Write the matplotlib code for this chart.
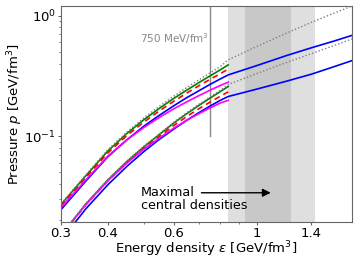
import matplotlib
matplotlib.use("Agg")
import matplotlib.pyplot as plt
from matplotlib.ticker import FixedLocator, FixedFormatter, NullFormatter

# --- data ---
eps_a = [0.30, 0.35, 0.40, 0.45, 0.50, 0.55, 0.60, 0.65, 0.70, 0.75, 0.80, 0.84]
green_a = [0.027, 0.047, 0.075, 0.105, 0.137, 0.170, 0.205, 0.240, 0.277, 0.315, 0.355, 0.390]
red_a = [0.0262, 0.0455, 0.0723, 0.101, 0.131, 0.162, 0.194, 0.227, 0.261, 0.295, 0.330, 0.360]
magenta_a = [0.0255, 0.0435, 0.068, 0.093, 0.118, 0.143, 0.168, 0.192, 0.216, 0.240, 0.263, 0.280]

eps_a_long = [0.30, 0.35, 0.40, 0.45, 0.50, 0.55, 0.60, 0.65, 0.70, 0.75, 0.80, 0.84, 1.0, 1.2, 1.4, 1.6, 1.8]
dotted_a = [0.0275, 0.048, 0.077, 0.108, 0.142, 0.177, 0.214, 0.252, 0.292, 0.334, 0.378, 0.43,
            0.553, 0.714, 0.877, 1.04, 1.20]
blue_a = [0.0245, 0.0425, 0.0672, 0.093, 0.121, 0.149, 0.178, 0.208, 0.237, 0.268, 0.298, 0.322,
          0.384, 0.465, 0.540, 0.611, 0.685]

eps_b = [0.32, 0.35, 0.40, 0.45, 0.50, 0.55, 0.60, 0.65, 0.70, 0.75, 0.80, 0.84]
green_b = [0.0193, 0.0274, 0.0431, 0.0614, 0.0816, 0.1031, 0.128, 0.153, 0.179, 0.206, 0.234, 0.258]
red_b = [0.0191, 0.0270, 0.0424, 0.0600, 0.0793, 0.0995, 0.122, 0.145, 0.168, 0.191, 0.214, 0.233]
magenta_b = [0.0192, 0.0271, 0.0424, 0.0596, 0.0780, 0.0965, 0.116, 0.135, 0.153, 0.171, 0.188, 0.198]

eps_b_long = [0.32, 0.35, 0.40, 0.45, 0.50, 0.55, 0.60, 0.65, 0.70, 0.75, 0.80, 0.84, 1.0, 1.2, 1.4, 1.6, 1.8]
dotted_b = [0.0195, 0.0277, 0.0436, 0.0621, 0.0826, 0.1045, 0.130, 0.156, 0.183, 0.211, 0.240, 0.268,
            0.330, 0.407, 0.483, 0.560, 0.640]
blue_b = [0.0176, 0.0250, 0.0393, 0.0560, 0.0745, 0.094, 0.114, 0.135, 0.156, 0.177, 0.198, 0.213,
          0.245, 0.285, 0.326, 0.374, 0.423]

band_outer = (0.84, 1.43)
band_inner = (0.93, 1.24)
vline_eps = 0.75

xticks = [0.3, 0.4, 0.6, 1.0, 1.4]
xticklabels = ["0.3", "0.4", "0.6", "1", "1.4"]

fig = plt.figure(figsize=(3.57, 2.65), dpi=100)
ax = fig.add_axes([0.171, 0.162, 0.815, 0.815])
ax.set_xscale("log")
ax.set_yscale("log")

ax.axvspan(*band_outer, color="#dfdfdf", lw=0, zorder=0)
ax.axvspan(*band_inner, color="#c8c8c8", lw=0, zorder=0)
ax.plot([vline_eps, vline_eps], [0.1, 1.3], color="#888888", lw=1.0, zorder=1)

lw = 1.2
dot = (0, (1, 1.5))
dash = (0, (3.5, 2.5))
ax.plot(eps_a_long, dotted_a, color="gray", ls=dot, lw=1.0, zorder=3)
ax.plot(eps_a, green_a, color="green", lw=lw, zorder=2)
ax.plot(eps_a, red_a, color="red", ls=dash, lw=lw, zorder=2)
ax.plot(eps_a_long, blue_a, color="blue", lw=lw, zorder=2)
ax.plot(eps_a, magenta_a, color="magenta", lw=lw, zorder=2)

ax.plot(eps_b_long, dotted_b, color="gray", ls=dot, lw=1.0, zorder=3)
ax.plot(eps_b, green_b, color="green", lw=lw, zorder=2)
ax.plot(eps_b, red_b, color="red", ls=dash, lw=lw, zorder=2)
ax.plot(eps_b_long, blue_b, color="blue", lw=lw, zorder=2)
ax.plot(eps_b, magenta_b, color="magenta", lw=lw, zorder=2)

ax.set_xlim(0.3, 1.8)
ax.set_ylim(0.0193, 1.2)

ax.xaxis.set_major_locator(FixedLocator(xticks))
ax.xaxis.set_major_formatter(FixedFormatter(xticklabels))
ax.xaxis.set_minor_formatter(NullFormatter())

for s in ax.spines.values():
    s.set_color("#666666")
ax.tick_params(which="major", length=2.2, pad=1.5)
ax.tick_params(which="minor", length=1.3)
ax.tick_params(which="both", colors="#666666", labelcolor="black", labelsize=9.5)

ax.set_xlabel(r"Energy density $\varepsilon$ [GeV/fm$^3$]", fontsize=9.5)
ax.set_ylabel(r"Pressure $p$ [GeV/fm$^3$]", fontsize=9.5)
ax.xaxis.set_label_coords(0.5, -0.078)
ax.yaxis.set_label_coords(-0.125, 0.5)

ax.text(0.745, 0.64, r"750 MeV/fm$^3$", color="#888888", fontsize=7.5, ha="right", va="center")
ax.text(0.491, 0.0299, "Maximal\ncentral densities", fontsize=9.2, ha="left", va="center", linespacing=1.05)
ax.annotate("", xy=(1.11, 0.0338), xytext=(0.70, 0.0338),
            arrowprops=dict(arrowstyle="-|>", color="black", lw=1.0, mutation_scale=12))

fig.savefig("out.png", dpi=100)
